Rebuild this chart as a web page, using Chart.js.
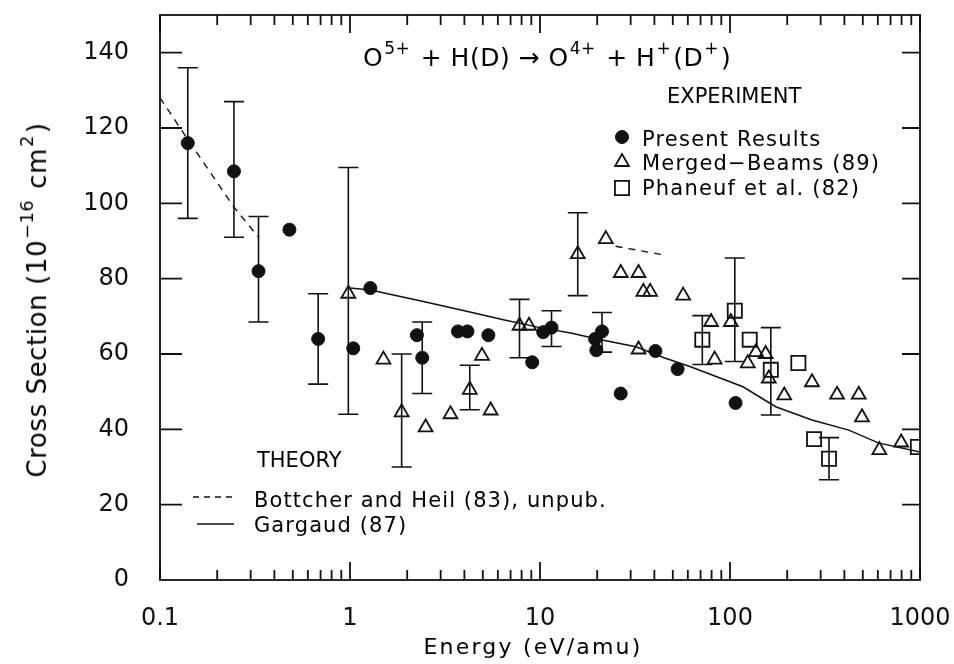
<!DOCTYPE html>
<html>
<head>
<meta charset="utf-8">
<title>O5+ + H(D) electron capture cross section</title>
<script src="https://cdn.jsdelivr.net/npm/chart.js@4.4.1/dist/chart.umd.min.js"></script>
<style>
  html, body { margin: 0; padding: 0; background: #fff; }
  #wrap { position: relative; width: 954px; height: 664px; font-family: 'DejaVu Sans', sans-serif; color: #000; overflow: hidden; }
  #chart { position: absolute; left: 0; top: 0; }
  .lbl { position: absolute; white-space: nowrap; line-height: 1; transform: translateY(-50%); }
  .lbl sup { font-size: 0.68em; vertical-align: baseline; position: relative; top: -0.72em; margin-left: 1px; margin-right: 2px; }
</style>
</head>
<body>
<div id="wrap">
  <canvas id="chart" width="954" height="664"></canvas>

  <div class="lbl" style="left:363px; top:57px; font-size:25px; letter-spacing:0.5px;">O<sup>5+</sup> + H(D) → O<sup>4+</sup> + H<sup>+</sup>(D<sup>+</sup>)</div>

  <div class="lbl" style="left:667px; top:96px; font-size:21px;">EXPERIMENT</div>
  <div class="lbl" style="left:642px; top:139px; font-size:21px; letter-spacing:1.2px;">Present Results</div>
  <div class="lbl" style="left:642px; top:163px; font-size:21px; letter-spacing:1.2px;">Merged−Beams (89)</div>
  <div class="lbl" style="left:642px; top:188px; font-size:21px; letter-spacing:1.2px;">Phaneuf et al. (82)</div>

  <div class="lbl" style="left:257px; top:460px; font-size:21px;">THEORY</div>
  <div class="lbl" style="left:254px; top:500px; font-size:21px; letter-spacing:1.1px;">Bottcher and Heil (83), unpub.</div>
  <div class="lbl" style="left:254px; top:525px; font-size:21px; letter-spacing:1.1px;">Gargaud (87)</div>

  <div class="lbl" style="left:533px; top:647px; font-size:22px; letter-spacing:2.2px; transform:translate(-50%,-50%);">Energy (eV/amu)</div>
  <div class="lbl" style="left:37px; top:300px; font-size:26px; letter-spacing:0.6px; transform:translate(-50%,-50%) rotate(-90deg);">Cross Section (10<sup>−16</sup> cm<sup>2</sup>)</div>
</div>

<script>
// ---- data (energy in eV/amu, cross section in 1e-16 cm^2) ----
const PRESENT_E     = [0.14, 0.245, 0.33, 0.48, 0.68, 1.04, 1.28, 2.25, 2.4, 3.7, 4.15, 5.35, 9.1, 10.4, 11.5, 19.5, 19.8, 21.2, 26.6, 40.5, 53, 107];
const PRESENT_SIGMA = [116, 108.5, 82, 93, 64, 61.5, 77.5, 65, 59, 66, 66, 65, 57.8, 65.8, 67, 64, 61, 66, 49.5, 60.8, 56, 47];
const PRESENT_LO    = [96, 91, 68.5, null, 52, null, null, null, 49.5, null, null, null, null, null, 62, null, null, 60.5, null, null, null, null];
const PRESENT_HI    = [136, 127, 96.5, null, 76, null, null, null, 68.5, null, null, null, null, null, 71.5, null, null, 71, null, null, null, null];

const MERGED_E     = [0.98, 1.5, 1.87, 2.5, 3.38, 4.27, 4.95, 5.5, 7.8, 8.75, 15.8, 22.2, 26.6, 33, 33, 35, 38, 56.7, 79.5, 83, 101, 124, 137, 154, 160, 193, 270, 366, 476, 495, 611, 796];
const MERGED_SIGMA = [76, 58.5, 44.5, 40.5, 44, 50.5, 59.5, 45, 67.5, 67.5, 86.5, 90.5, 81.5, 81.5, 61.2, 76.5, 76.5, 75.5, 68.5, 58.5, 68.5, 57.5, 60.5, 60, 53.5, 49, 52.5, 49.2, 49.2, 43.2, 34.5, 36.5];
const MERGED_LO    = [44, null, 30, null, null, 45.2, null, null, 59, null, 75.5, null, null, null, null, null, null, null, null, null, null, null, null, null, null, null, null, null, null, null, null, null];
const MERGED_HI    = [109.5, null, 60, null, null, 57, null, null, 74.5, null, 97.5, null, null, null, null, null, null, null, null, null, null, null, null, null, null, null, null, null, null, null, null, null];

const PHANEUF_E     = [71.5, 106, 127, 164, 229, 277, 332, 975];
const PHANEUF_SIGMA = [63.8, 71.5, 63.8, 55.8, 57.6, 37.4, 32.2, 35.3];
const PHANEUF_LO    = [57.2, 58, null, 43.8, null, null, 26.6, null];
const PHANEUF_HI    = [70.2, 85.5, null, 67, null, null, 37.8, null];

// theory curves (null = gap in the dashed curve)
const BOTTCHER_E     = [0.1, 0.14, 0.245, 0.33, 5, 25, 46];
const BOTTCHER_SIGMA = [128, 117, 99, 91, null, 88.6, 86.2];
const GARGAUD_E      = [0.97, 1.28, 2.4, 4, 6.5, 10, 14.5, 20, 32, 45, 62, 90, 117, 174, 270, 422, 603, 1000];
const GARGAUD_SIGMA  = [77.6, 77, 74, 71.5, 69, 67, 65.6, 64, 61.9, 59, 56.6, 53.5, 51.3, 46, 42.5, 39.8, 36.4, 34];

// axes
const X_MAJOR  = [0.1, 1, 10, 100, 1000];
const X_LABELS = ['0.1', '1', '10', '100', '1000'];
const X_MINOR_STEPS = [2, 3, 4, 5, 6, 7, 8, 9];
const Y_TICKS  = [0, 20, 40, 60, 80, 100, 120, 140];

const INK = '#111';

function toPoints(xs, ys) {
    return xs.map((x, i) => ({ x: x, y: ys[i] }));
}

// vertical error bars with caps, placed through the chart scales
const errorBars = {
    id: 'errorBars',
    beforeDatasetsDraw(chart) {
        const { ctx, scales: { x, y } } = chart;
        ctx.save();
        ctx.strokeStyle = INK;
        ctx.lineWidth = 1.6;
        chart.data.datasets.forEach(ds => {
            if (!ds.errLo) return;
            ds.data.forEach((p, j) => {
                const lo = ds.errLo[j], hi = ds.errHi[j];
                if (lo == null || hi == null) return;
                const px = x.getPixelForValue(p.x);
                const pl = y.getPixelForValue(lo);
                const ph = y.getPixelForValue(hi);
                ctx.beginPath();
                ctx.moveTo(px, pl); ctx.lineTo(px, ph);
                ctx.moveTo(px - 10, pl); ctx.lineTo(px + 10, pl);
                ctx.moveTo(px - 10, ph); ctx.lineTo(px + 10, ph);
                ctx.stroke();
            });
        });
        ctx.restore();
    }
};

// box frame with inward ticks on all four sides
const frameTicks = {
    id: 'frameTicks',
    afterDatasetsDraw(chart) {
        const { ctx, chartArea: a, scales: { x, y } } = chart;
        ctx.save();
        ctx.strokeStyle = INK;
        ctx.lineWidth = 1.8;
        ctx.strokeRect(a.left, a.top, a.right - a.left, a.bottom - a.top);
        ctx.beginPath();
        X_MAJOR.forEach(v => {
            const px = x.getPixelForValue(v);
            ctx.moveTo(px, a.bottom); ctx.lineTo(px, a.bottom - 18);
            ctx.moveTo(px, a.top); ctx.lineTo(px, a.top + 18);
        });
        X_MAJOR.slice(0, -1).forEach(d => {
            X_MINOR_STEPS.forEach(k => {
                const px = x.getPixelForValue(d * k);
                ctx.moveTo(px, a.bottom); ctx.lineTo(px, a.bottom - 10);
                ctx.moveTo(px, a.top); ctx.lineTo(px, a.top + 10);
            });
        });
        Y_TICKS.forEach(v => {
            if (v === 0) return;
            const py = y.getPixelForValue(v);
            ctx.moveTo(a.left, py); ctx.lineTo(a.left + 22, py);
            ctx.moveTo(a.right, py); ctx.lineTo(a.right - 18, py);
        });
        ctx.stroke();
        ctx.restore();
    }
};

// legend symbols (the texts are HTML labels)
const legendMarks = {
    id: 'legendMarks',
    afterDraw(chart) {
        const ctx = chart.ctx;
        const ds = chart.data.datasets;
        const marks = [[ds[0], 622, 137], [ds[1], 622, 162], [ds[2], 622, 188]];
        ctx.save();
        marks.forEach(([d, mx, my]) => {
            ctx.fillStyle = d.pointBackgroundColor;
            ctx.strokeStyle = d.pointBorderColor;
            ctx.lineWidth = d.pointBorderWidth;
            Chart.helpers.drawPoint(ctx, {
                pointStyle: d.pointStyle, radius: d.pointRadius,
                borderWidth: d.pointBorderWidth, rotation: 0
            }, mx, my);
        });
        ctx.strokeStyle = INK;
        ctx.lineWidth = 1.5;
        ctx.setLineDash([6, 5]);
        ctx.beginPath(); ctx.moveTo(193, 497); ctx.lineTo(234, 497); ctx.stroke();
        ctx.setLineDash([]);
        ctx.beginPath(); ctx.moveTo(197, 524); ctx.lineTo(234, 524); ctx.stroke();
        ctx.restore();
    }
};

new Chart(document.getElementById('chart'), {
    type: 'scatter',
    data: {
        datasets: [{
            label: 'Present Results',
            data: toPoints(PRESENT_E, PRESENT_SIGMA),
            errLo: PRESENT_LO, errHi: PRESENT_HI,
            pointStyle: 'circle', pointRadius: 6.5,
            pointBackgroundColor: INK, pointBorderColor: INK, pointBorderWidth: 1
        }, {
            label: 'Merged-Beams (89)',
            data: toPoints(MERGED_E, MERGED_SIGMA),
            errLo: MERGED_LO, errHi: MERGED_HI,
            pointStyle: 'triangle', pointRadius: 8,
            pointBackgroundColor: 'rgba(0,0,0,0)', pointBorderColor: INK, pointBorderWidth: 1.8
        }, {
            label: 'Phaneuf et al. (82)',
            data: toPoints(PHANEUF_E, PHANEUF_SIGMA),
            errLo: PHANEUF_LO, errHi: PHANEUF_HI,
            pointStyle: 'rect', pointRadius: 10,
            pointBackgroundColor: 'rgba(0,0,0,0)', pointBorderColor: INK, pointBorderWidth: 1.8
        }, {
            label: 'Bottcher and Heil (83), unpub.',
            data: toPoints(BOTTCHER_E, BOTTCHER_SIGMA),
            showLine: true, spanGaps: false, pointRadius: 0,
            borderColor: INK, borderWidth: 1.4, borderDash: [7, 6]
        }, {
            label: 'Gargaud (87)',
            data: toPoints(GARGAUD_E, GARGAUD_SIGMA),
            showLine: true, pointRadius: 0,
            borderColor: INK, borderWidth: 1.5
        }]
    },
    options: {
        responsive: false,
        animation: false,
        devicePixelRatio: 1,
        layout: { padding: { top: 15, right: 34, left: 0, bottom: 0 } },
        plugins: {
            legend: { display: false },
            tooltip: { enabled: false }
        },
        scales: {
            x: {
                type: 'logarithmic',
                min: 0.1, max: 1000,
                grid: { display: false },
                border: { display: false },
                afterBuildTicks: s => { s.ticks = X_MAJOR.map(v => ({ value: v })); },
                afterFit: s => { s.height = 84; s.paddingLeft = 0; s.paddingRight = 0; },
                ticks: {
                    autoSkip: false, maxRotation: 0, padding: 16,
                    color: INK,
                    font: { family: 'DejaVu Sans', size: 24 },
                    callback: (v, i) => X_LABELS[i]
                }
            },
            y: {
                min: 0, max: 150,
                grid: { display: false },
                border: { display: false },
                afterBuildTicks: s => { s.ticks = Y_TICKS.map(v => ({ value: v })); },
                afterFit: s => { s.width = 160; s.paddingTop = 0; s.paddingBottom = 0; },
                ticks: {
                    padding: 23,
                    color: INK,
                    font: { family: 'DejaVu Sans', size: 24 },
                    callback: v => String(v)
                }
            }
        }
    },
    plugins: [errorBars, frameTicks, legendMarks]
});
</script>
</body>
</html>
